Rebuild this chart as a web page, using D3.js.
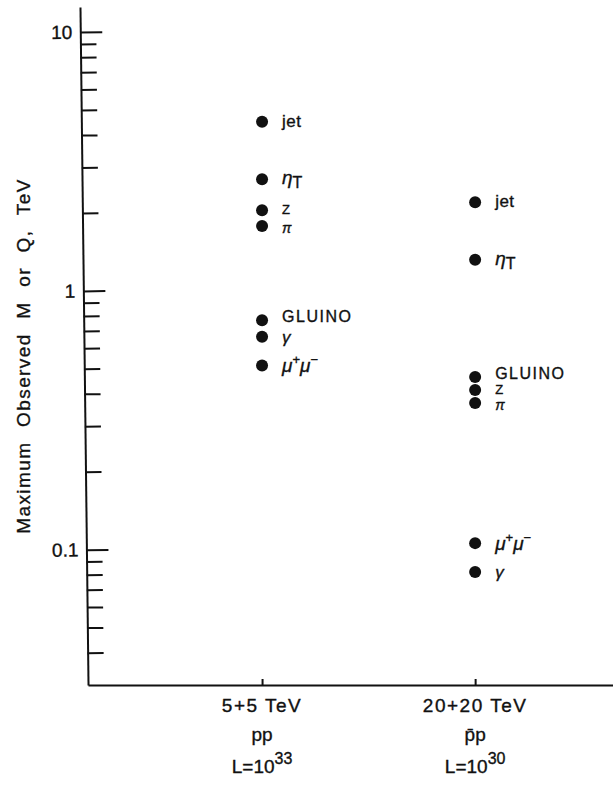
<!DOCTYPE html>
<html>
<head>
<meta charset="utf-8">
<script src="https://cdn.jsdelivr.net/npm/d3@7"></script>
<style>
  body { margin: 0; background: #fff; }
  text { font-family: "Liberation Sans", Arial, sans-serif; fill: #111; stroke: #111; stroke-width: 0.35px; }
  .tick text { font-size: 19px; }
  .lbl { font-size: 16px; letter-spacing: 1.5px; }
  .greek { font-style: italic; font-size: 19px; }
</style>
</head>
<body>
<div id="chart"></div>
<script>
// data
var columns = ['5+5 TeV', '20+20 TeV'];
var beams = ['pp', 'p\u0304p'];
var lumExp = ['33', '30'];

var names5 = ['jet', 'etaT', 'Z', 'pi', 'GLUINO', 'gamma', 'mumu'];
var mass5 = [4.5, 2.7, 2.05, 1.78, 0.77, 0.665, 0.515];
var names20 = ['jet', 'etaT', 'GLUINO', 'Z', 'pi', 'mumu', 'gamma'];
var mass20 = [2.2, 1.32, 0.465, 0.414, 0.369, 0.106, 0.082];

var majorTicks = [0.1, 1, 10];
var minorTicks = [0.04, 0.05, 0.06, 0.07, 0.08, 0.09,
                  0.2, 0.3, 0.4, 0.5, 0.6, 0.7, 0.8, 0.9,
                  2, 3, 4, 5, 6, 7, 8, 9];
var majorLabels = ['0.1', '1', '10'];

var W = 613, H = 793;
var x0 = 84, yBottom = 685;

var svg = d3.select('#chart').append('svg')
  .attr('width', W).attr('height', H);

var y = d3.scaleLog().domain([0.03, 12.5]).range([yBottom, 7]);
var x = d3.scalePoint().domain(columns).range([88, W]).padding(0.732).align(0.558);

// y axis, ticks on the inside, labels on the left
// (the original axis leans a little, so the group is turned by a hair)
var yAxis = d3.axisLeft(y)
  .tickValues(majorTicks.concat(minorTicks))
  .tickSize(-16).tickSizeOuter(0).tickPadding(8)
  .tickFormat(function(d) {
    var i = majorTicks.indexOf(d);
    return i < 0 ? '' : majorLabels[i];
  });

var gy = svg.append('g')
  .attr('transform', 'translate(' + x0 + ',0) rotate(-0.68,0,346)')
  .call(yAxis);
gy.select('.domain').attr('stroke', '#111').attr('stroke-width', 2);
gy.selectAll('.tick line')
  .attr('stroke', '#111').attr('stroke-width', 2)
  .attr('x2', function(d) { return majorTicks.indexOf(d) < 0 ? 16 : 22; });
gy.selectAll('.tick text').attr('fill', '#111');

svg.append('text')
  .attr('transform', 'translate(23,356) rotate(-90)')
  .attr('text-anchor', 'middle')
  .attr('dominant-baseline', 'central')
  .style('font-size', '19px')
  .style('letter-spacing', '1.4px')
  .style('word-spacing', '8px')
  .text('Maximum Observed M or Q, TeV');

// x axis: bare line with small ticks at the two machines
var xAxis = d3.axisBottom(x).tickSize(-6).tickSizeOuter(0).tickFormat('');
var gx = svg.append('g')
  .attr('transform', 'translate(0,' + yBottom + ')')
  .call(xAxis);
gx.select('.domain').attr('stroke', '#111').attr('stroke-width', 2);
gx.selectAll('.tick line').attr('stroke', '#111').attr('stroke-width', 2);

// column captions
var cap = svg.append('g').selectAll('g')
  .data(columns).enter().append('g')
  .attr('transform', function(d) { return 'translate(' + x(d) + ',0)'; });
cap.append('text')
  .attr('y', 712).attr('text-anchor', 'middle')
  .style('font-size', '19px').style('letter-spacing', '1.5px')
  .text(function(d) { return d; });
cap.append('text')
  .attr('y', 741).attr('text-anchor', 'middle')
  .style('font-size', '19px')
  .text(function(d, i) { return beams[i]; });
var lum = cap.append('text')
  .attr('y', 773).attr('text-anchor', 'middle')
  .style('font-size', '19px');
lum.append('tspan').text('L=10');
lum.append('tspan').attr('dy', -9).style('font-size', '16px')
  .text(function(d, i) { return lumExp[i]; });

// points
var points = [];
names5.forEach(function(n, i) { points.push({col: columns[0], name: n, m: mass5[i]}); });
names20.forEach(function(n, i) { points.push({col: columns[1], name: n, m: mass20[i]}); });

svg.append('g').selectAll('circle')
  .data(points).enter().append('circle')
  .attr('cx', function(d) { return x(d.col); })
  .attr('cy', function(d) { return y(d.m); })
  .attr('r', 6)
  .attr('fill', '#111');

var labels = svg.append('g').selectAll('text')
  .data(points).enter().append('text')
  .attr('x', function(d) { return x(d.col) + 20; })
  .attr('y', function(d) { return y(d.m) + 5; });

labels.each(function(d) {
  var t = d3.select(this);
  var cy = y(d.m);
  if (d.name == 'jet') {
    t.attr('class', 'lbl').style('font-size', '17px').style('letter-spacing', '0.5px').text('jet');
  } else if (d.name == 'GLUINO') {
    t.attr('class', 'lbl').attr('y', cy + 2).text('GLUINO');
  } else if (d.name == 'Z') {
    t.attr('class', 'lbl').attr('y', cy + 4).style('font-size', '13px').text('Z');
  } else if (d.name == 'pi') {
    t.attr('class', 'greek').attr('y', cy + 7).style('font-size', '14px').text('\u03c0');
  } else if (d.name == 'gamma') {
    t.attr('class', 'greek').attr('y', cy + 6).style('font-size', '17px').text('\u03b3');
  } else if (d.name == 'etaT') {
    t.attr('class', 'greek').text('\u03b7');
    t.append('tspan').attr('dy', 4).style('font-style', 'normal').style('font-size', '16px').text('T');
  } else if (d.name == 'mumu') {
    t.attr('class', 'greek').attr('y', cy + 7).text('\u03bc');
    t.append('tspan').attr('dy', -8).style('font-size', '13px').style('font-style', 'normal').text('+');
    t.append('tspan').attr('dy', 8).text('\u03bc');
    t.append('tspan').attr('dy', -8).style('font-size', '13px').style('font-style', 'normal').text('\u2212');
  }
});
</script>
</body>
</html>
